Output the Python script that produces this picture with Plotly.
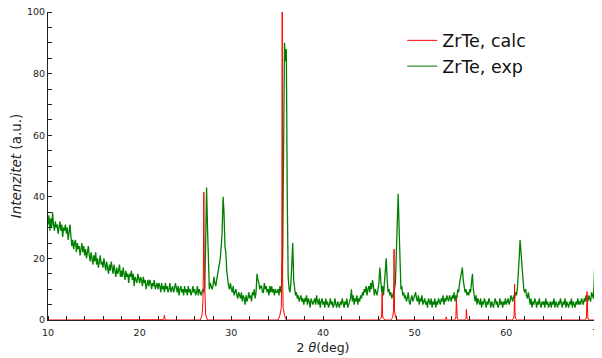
import plotly.graph_objects as go

# Experimental pattern: 2theta grid 10.0 .. 70.0, step 0.1
exp_rows = [
    [31, 34, 29, 33, 30, 35, 31, 29, 32, 30],   # 10
    [31, 28, 30, 32, 29, 31, 27, 30, 29, 31],   # 11
    [28, 30, 26, 29, 31, 27, 24, 26, 23, 25],   # 12
    [26, 22, 25, 23, 24, 21, 23, 25, 22, 24],   # 13
    [21, 23, 20, 22, 24, 21, 19, 22, 20, 18],   # 14
    [21, 19, 22, 18, 20, 17, 19, 21, 18, 19],   # 15
    [17, 20, 18, 16, 19, 17, 15, 18, 16, 19],   # 16
    [17, 15, 18, 16, 14, 17, 15, 16, 18, 14],   # 17
    [16, 14, 17, 15, 13, 16, 14, 15, 12, 15],   # 18
    [14, 16, 13, 15, 11, 14, 13, 12, 15, 13],   # 19
    [12, 14, 13, 11, 14, 12, 13, 10, 12, 13],   # 20
    [11, 13, 12, 10, 12, 11, 13, 10, 11, 12],   # 21
    [10, 12, 11, 9, 12, 10, 11, 9, 12, 10],     # 22
    [11, 9, 10, 12, 9, 10, 11, 9, 10, 12],      # 23
    [10, 9, 11, 8, 10, 11, 9, 10, 8, 11],       # 24
    [9, 10, 8, 11, 9, 10, 8, 9, 11, 9],         # 25
    [10, 8, 9, 11, 8, 10, 9, 8, 9, 10],         # 26
    [9, 11, 25, 43, 30, 13, 10, 12, 11, 10],    # 27
    [11, 14, 12, 11, 13, 15, 16, 18, 20, 24],   # 28
    [29, 40, 35, 24, 22, 16, 13, 11, 10, 12],   # 29
    [10, 9, 11, 8, 9, 10, 8, 7, 9, 8],          # 30
    [7, 9, 6, 8, 7, 5, 8, 6, 7, 9],             # 31
    [7, 8, 6, 9, 8, 10, 7, 9, 15, 13],          # 32
    [12, 10, 11, 11, 9, 9, 12, 10, 11, 9],      # 33
    [10, 8, 11, 9, 11, 9, 10, 8, 10, 9],        # 34
    [9, 10, 8, 11, 9, 12, 22, 55, 90, 84],      # 35
    [88, 40, 14, 10, 9, 12, 21, 25, 13, 9],     # 36
    [8, 9, 7, 8, 6, 7, 8, 6, 7, 5],             # 37
    [7, 6, 8, 5, 7, 6, 4, 7, 6, 5],             # 38
    [6, 7, 5, 8, 6, 5, 7, 4, 6, 7],             # 39
    [5, 6, 4, 7, 5, 6, 4, 5, 7, 5],             # 40
    [6, 4, 5, 7, 5, 4, 6, 5, 4, 6],             # 41
    [5, 7, 5, 4, 6, 5, 7, 4, 5, 6],             # 42
    [7, 10, 6, 8, 5, 7, 6, 8, 5, 7],            # 43
    [6, 8, 7, 9, 8, 10, 9, 11, 8, 10],          # 44
    [11, 9, 12, 10, 13, 11, 8, 10, 9, 8],       # 45
    [10, 12, 17, 14, 9, 11, 8, 12, 16, 20],     # 46
    [13, 9, 10, 8, 9, 7, 8, 9, 10, 12],         # 47
    [22, 38, 41, 30, 14, 10, 11, 8, 9, 7],      # 48
    [8, 6, 7, 9, 6, 5, 7, 8, 6, 7],             # 49
    [8, 9, 7, 6, 8, 5, 7, 6, 8, 5],             # 50
    [6, 7, 5, 6, 4, 7, 6, 5, 7, 4],             # 51
    [6, 5, 7, 4, 6, 5, 7, 6, 5, 7],             # 52
    [6, 8, 5, 7, 6, 8, 7, 6, 8, 7],             # 53
    [6, 8, 7, 9, 6, 8, 7, 10, 9, 12],           # 54
    [14, 16, 17, 13, 11, 9, 10, 8, 9, 8],       # 55
    [10, 9, 12, 15, 10, 7, 6, 8, 5, 7],         # 56
    [6, 5, 7, 4, 6, 5, 7, 6, 4, 6],             # 57
    [5, 7, 6, 4, 6, 5, 4, 6, 7, 5],             # 58
    [6, 4, 5, 7, 5, 6, 4, 6, 5, 7],             # 59
    [5, 6, 7, 5, 6, 8, 7, 6, 8, 7],             # 60
    [9, 8, 10, 14, 20, 26, 22, 15, 12, 10],     # 61
    [9, 10, 8, 7, 9, 6, 5, 7, 4, 6],            # 62
    [5, 7, 6, 4, 6, 5, 7, 5, 4, 6],             # 63
    [5, 6, 4, 7, 5, 6, 4, 5, 6, 4],             # 64
    [6, 5, 7, 4, 6, 5, 4, 6, 5, 7],             # 65
    [5, 4, 6, 5, 7, 4, 6, 5, 4, 6],             # 66
    [5, 7, 4, 6, 5, 4, 6, 5, 7, 5],             # 67
    [6, 5, 7, 6, 5, 7, 6, 8, 7, 6],             # 68
    [8, 7, 6, 9, 8, 7, 14, 22, 18, 16],         # 69
    [17],                                       # 70
]
exp_y = [v for row in exp_rows for v in row]
exp_x = [round(10 + 0.1 * i, 1) for i in range(len(exp_y))]

# Calculated pattern (profile points)
calc_x = [10.0,
          22.4, 22.6, 22.65, 22.7, 22.75, 22.8, 23.0,
          26.6, 26.8, 26.9, 26.95, 27.0, 27.05, 27.1, 27.2, 27.4,
          35.1, 35.3, 35.45, 35.5, 35.55, 35.6, 35.65, 35.8, 36.0,
          46.1, 46.3, 46.4, 46.45, 46.5, 46.6, 46.8,
          47.4, 47.6, 47.7, 47.75, 47.8, 47.9, 48.1,
          53.3, 53.4, 53.45, 53.5, 53.6,
          54.3, 54.45, 54.5, 54.55, 54.6, 54.65, 54.8,
          55.45, 55.6, 55.65, 55.7, 55.85,
          60.6, 60.8, 60.85, 60.9, 60.95, 61.0, 61.2,
          68.5, 68.7, 68.75, 68.8, 68.85, 68.9, 69.1,
          70.0]
calc_y = [0,
          0, 0.1, 0.5, 1.5, 0.5, 0.1, 0,
          0, 1.6, 5.8, 16, 41.5, 16, 5.8, 1.6, 0,
          0, 1.5, 4, 14, 100, 14, 4, 1.5, 0,
          0, 0.4, 1.3, 9, 1.3, 0.4, 0,
          0, 0.9, 3.2, 23, 3.2, 0.9, 0,
          0, 0.2, 1, 0.2, 0,
          0, 0.3, 1, 7, 1, 0.3, 0,
          0, 0.5, 3.5, 0.5, 0,
          0, 0.5, 1.6, 11.7, 1.6, 0.5, 0,
          0, 0.4, 1.3, 9.2, 1.3, 0.4, 0,
          0]

series_names = ["ZrTe, calc", "ZrTe, exp"]
x_tickvals = [10, 20, 30, 40, 50, 60, 70]
y_tickvals = [0, 20, 40, 60, 80, 100]

font_family = "DejaVu Sans, Verdana, sans-serif"

fig = go.Figure()
fig.add_trace(go.Scatter(x=exp_x, y=exp_y, mode="lines", name=series_names[1],
                         line=dict(color="#008000", width=1.3), showlegend=False))
fig.add_trace(go.Scatter(x=calc_x, y=calc_y, mode="lines", name=series_names[0],
                         line=dict(color="#ff0000", width=1)))
# legend entry for exp (listed after calc)
fig.add_trace(go.Scatter(x=[None], y=[None], mode="lines", name=series_names[1],
                         line=dict(color="#008000", width=1)))

fig.update_layout(
    width=594, height=350,
    margin=dict(l=40, r=4, t=4, b=38, autoexpand=False),
    paper_bgcolor="white", plot_bgcolor="white",
    font=dict(family=font_family, size=9.5, color="#222222"),
    legend=dict(x=0.644, y=0.966, xanchor="left", yanchor="top",
                font=dict(size=17.5, color="#111111"), bgcolor="rgba(0,0,0,0)",
                tracegroupgap=0, itemwidth=30),
    xaxis=dict(range=[10, 70], tickvals=x_tickvals, ticks="", showgrid=False,
               showline=True, linecolor="#222222", linewidth=1, zeroline=False,
               automargin=False, ticklabeloverflow="allow", ticklabelstandoff=4,
               minor=dict(dtick=2, tick0=10, ticks="inside", ticklen=4, tickcolor="#222222", showgrid=False),
               title=dict(text="2 <i>θ</i>(deg)", font=dict(size=12.5), standoff=5)),
    yaxis=dict(range=[0, 100], tickvals=y_tickvals, ticks="", showgrid=False,
               showline=True, linecolor="#222222", linewidth=1, zeroline=False,
               automargin=False, ticklabeloverflow="allow",
               minor=dict(dtick=5, tick0=0, ticks="inside", ticklen=4, tickcolor="#222222", showgrid=False),
               title=dict(text="<i>Intenzitet</i> (a.u.)", font=dict(size=13.5), standoff=8)),
)

fig.write_html("out.html")
